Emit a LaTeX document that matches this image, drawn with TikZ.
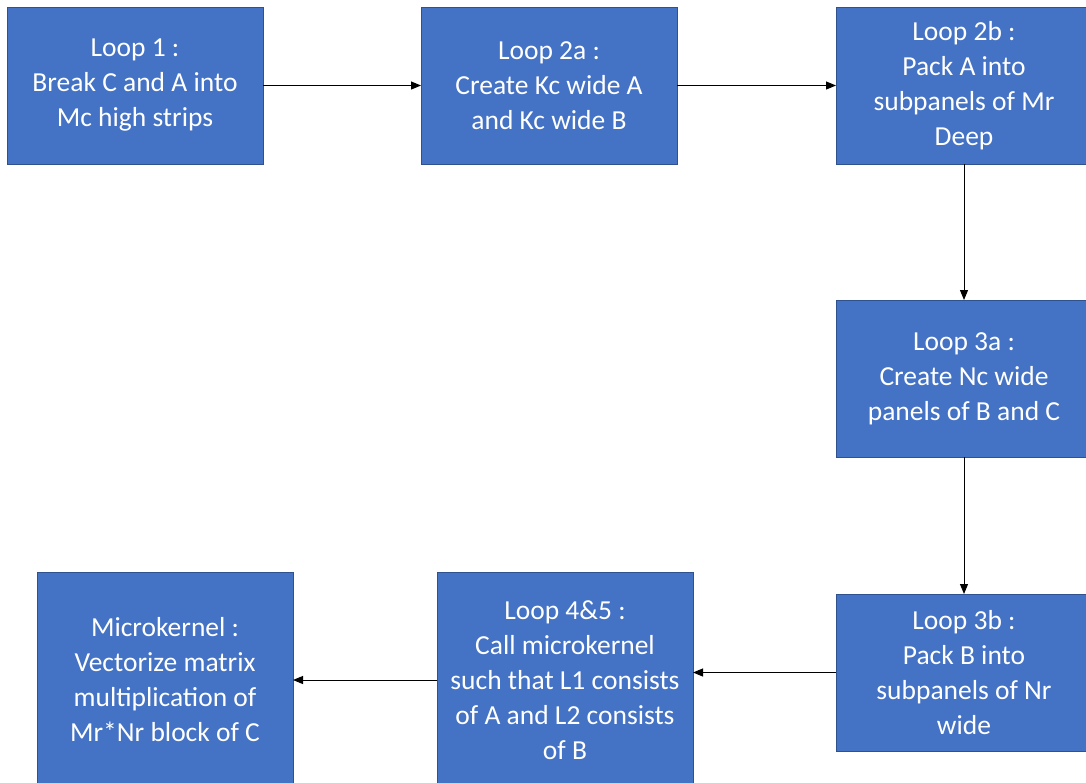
\documentclass[tikz,border=0pt]{standalone}
\usepackage{fontspec}
\setmainfont{Carlito}
\usetikzlibrary{arrows.meta,positioning}
\definecolor{boxblue}{HTML}{4472C4}
\definecolor{boxedge}{HTML}{2F528F}
\tikzset{>=Stealth}

\begin{document}
\begin{tikzpicture}[
    loopbox/.style={draw=boxedge, line width=0.8pt, outer sep=0pt, fill=boxblue, text=white, minimum width=256pt, minimum height=157pt, align=center, font=\fontsize{27.5}{35}\selectfont},
    arr/.style={-{Triangle[length=10pt,width=8pt]}, line width=1pt}
  ]
    \useasboundingbox (0,0) rectangle (1086pt,-782pt);

    \node[loopbox] (loopone) at (135pt,-85.5pt) {Loop 1 :\\Break C and A into\\Mc high strips};
    \node[loopbox, right=158pt of loopone] (looptwoa) {Loop 2a :\\Create Kc wide A\\and Kc wide B};
    \node[loopbox, right=159pt of looptwoa] (looptwob) {Loop 2b :\\Pack A into\\subpanels of Mr\\Deep};
    \node[loopbox, below=136pt of looptwob] (loopthreea) {Loop 3a :\\Create Nc wide\\panels of B and C};
    \node[loopbox, below=137pt of loopthreea] (loopthreeb) {Loop 3b :\\Pack B into\\subpanels of Nr\\wide};
    \node[loopbox, minimum height=216pt, yshift=22pt, left=143pt of loopthreeb.north west, anchor=north east] (loopfour) {Loop 4\&5 :\\Call microkernel\\such that L1 consists\\of A and L2 consists\\of B};
    \node[loopbox, minimum height=216pt, left=144pt of loopfour] (micro) {Microkernel :\\Vectorize matrix\\multiplication of\\Mr*Nr block of C};

    \draw[arr] (loopone) -- (looptwoa);
    \draw[arr] (looptwoa) -- (looptwob);
    \draw[arr] (looptwob) -- (loopthreea);
    \draw[arr] (loopthreea) -- (loopthreeb);
    \draw[arr] (loopthreeb.west) -- (loopthreeb.west -| loopfour.east);
    \draw[arr] (loopfour) -- (micro);
  \end{tikzpicture}
\end{document}
